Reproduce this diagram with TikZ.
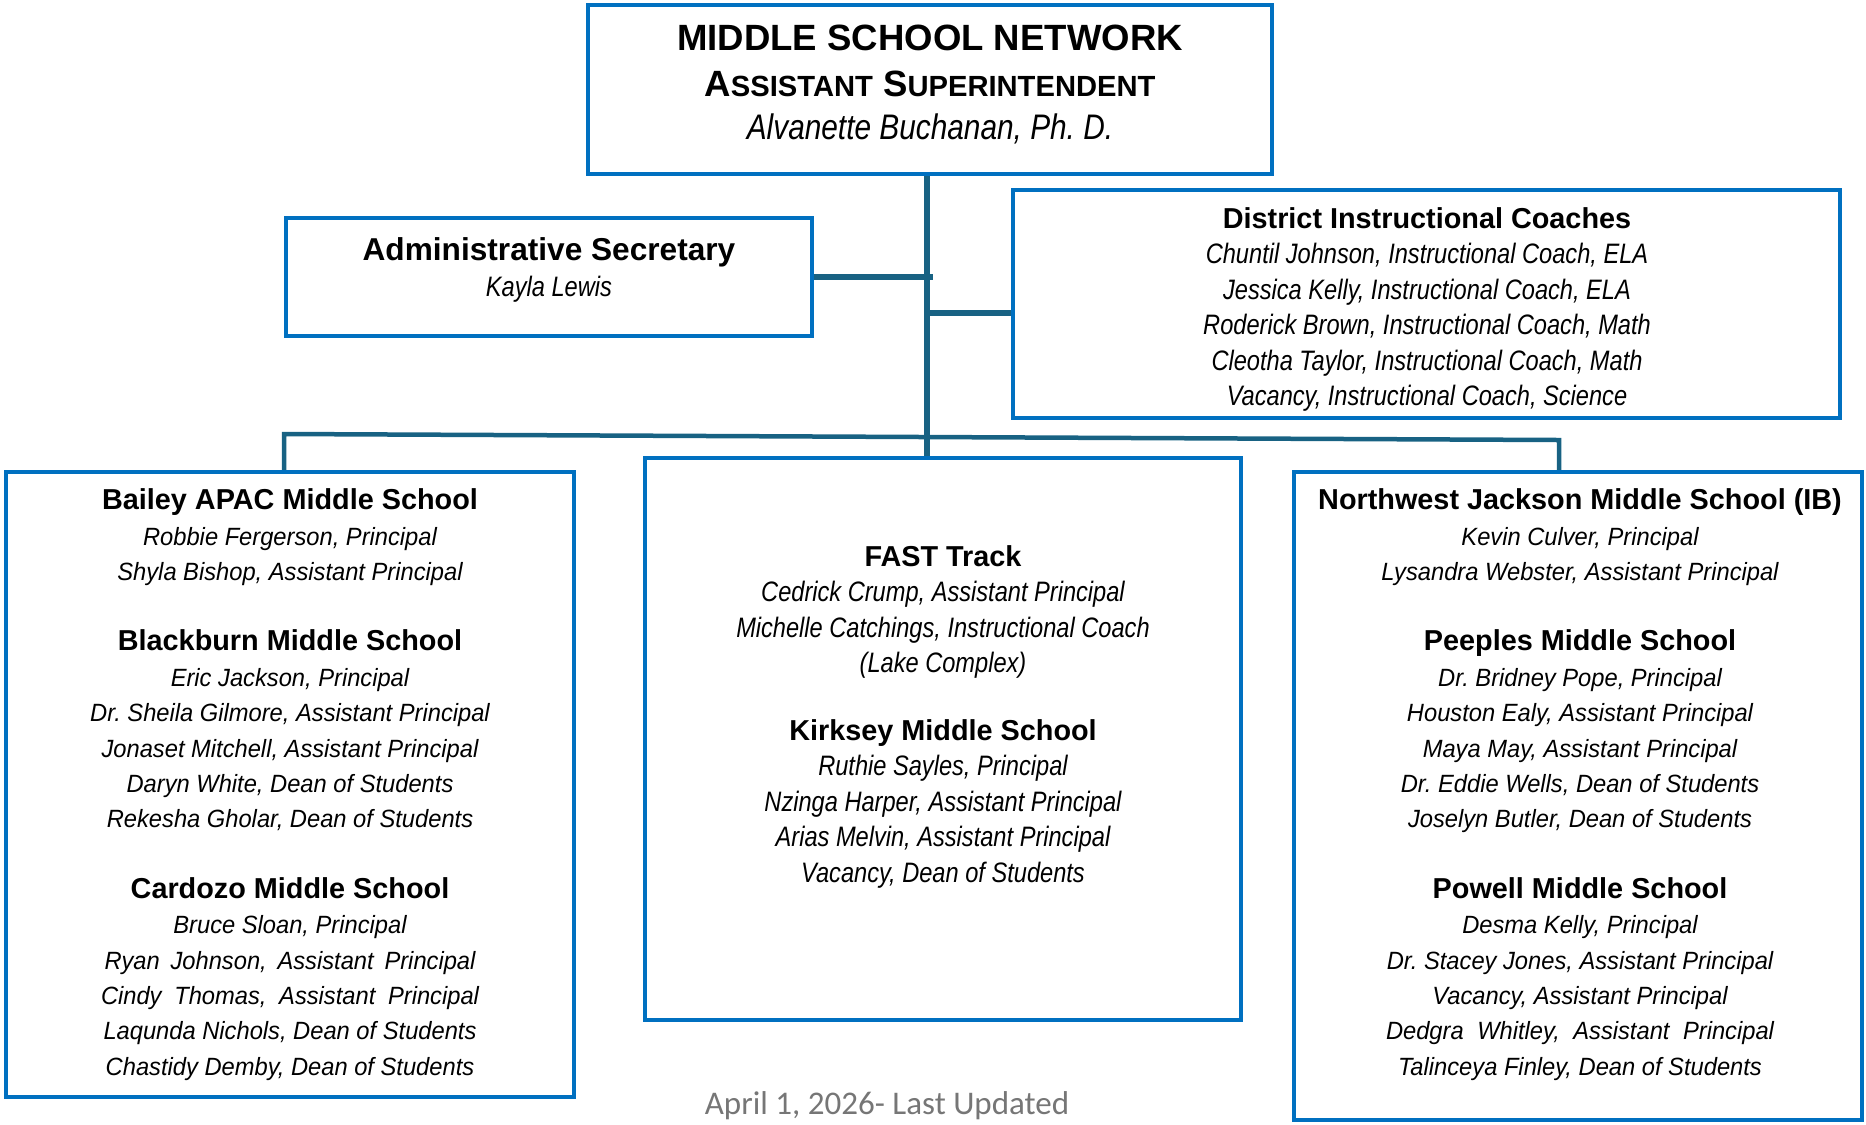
\documentclass[tikz,border=0pt]{standalone}
\usepackage{fontspec}
\setmainfont{Liberation Sans}
\newfontfamily\narrowsans[FakeStretch=0.84]{Liberation Sans}
\newfontfamily\widesans[FakeStretch=0.95]{Liberation Sans}
\newfontfamily\datefont{Carlito}
\usetikzlibrary{fit}
\definecolor{boxblue}{RGB}{0,112,192}
\definecolor{linkblue}{RGB}{24,98,131}
\definecolor{dategray}{RGB}{118,118,118}
\newcommand{\schoolname}[1]{{\normalfont\bfseries\fontsize{8.2}{10.07}\selectfont #1}}
\newcommand{\smallcapsize}[1]{{\fontsize{8.3}{12.2}\selectfont #1}}

\begin{document}
\frenchspacing
\begin{tikzpicture}[x=0.1mm, y=-0.1mm, line join=miter,
		orgbox/.style={draw=boxblue, line width=0.45mm, inner sep=0pt},
		link/.style={draw=linkblue, line width=0.55mm},
		names/.style={align=center, inner sep=0pt, anchor=north}]
	\useasboundingbox (0,0) rectangle (1866,1124);
	%Kästen
	\node[orgbox, fit={(588,5) (1272,174)}] (net) {};
	\node[orgbox, fit={(286,218) (812,336)}] (sec) {};
	\node[orgbox, fit={(1013,190) (1840,418)}] (coach) {};
	\node[orgbox, fit={(6,472) (574,1097)}] (west) {};
	\node[orgbox, fit={(645,458) (1241,1020)}] (fast) {};
	\node[orgbox, fit={(1294,472) (1862,1120)}] (east) {};
	%Verbindungen
	\coordinate (spine) at ([xshift=-0.3mm]net.south);
	\draw[link] (spine) -- (spine |- fast.north);
	\draw[link] (sec.east) -- ([xshift=0.6mm]sec.east -| spine);
	\coordinate (coachlink) at (927,313);
	\draw[link] (coachlink) -- (coachlink -| coach.west);
	\coordinate (busL) at (284,434);
	\coordinate (busR) at (1559,440);
	\draw[link, line width=0.45mm] (busL |- west.north) -- (busL) -- (busR) -- (busR |- east.north);
	%Texte
	\node[names, font=\bfseries\fontsize{10.4}{12.2}\selectfont] (nettext) at (930,24) {MIDDLE SCHOOL NETWORK\\[0.9pt]
		A\smallcapsize{SSISTANT} S\smallcapsize{UPERINTENDENT}\\
		{\narrowsans\mdseries\itshape\fontsize{10.1}{12.2}\selectfont Alvanette Buchanan, Ph. D.}};
	\node[names, font=\narrowsans\itshape\fontsize{8}{10.3}\selectfont] (sectext) at (549,237) {{\normalfont\bfseries\fontsize{9}{10.3}\selectfont Administrative Secretary}\\
		Kayla Lewis};
	\node[names, font=\narrowsans\itshape\fontsize{8}{10.07}\selectfont] (coachtext) at (1427,207) {\schoolname{District Instructional Coaches}\\
		Chuntil Johnson, Instructional Coach, ELA\\
		Jessica Kelly, Instructional Coach, ELA\\
		Roderick Brown, Instructional Coach, Math\\
		Cleotha Taylor, Instructional Coach, Math\\
		Vacancy, Instructional Coach, Science};
	\node[names, font=\widesans\itshape\fontsize{7.1}{10.07}\selectfont] (westtext) at (290,488) {\schoolname{Bailey APAC Middle School}\\
		Robbie Fergerson, Principal\\
		Shyla Bishop, Assistant Principal\\[10pt]
		\schoolname{Blackburn Middle School}\\
		Eric Jackson, Principal\\
		Dr. Sheila Gilmore, Assistant Principal\\
		Jonaset Mitchell, Assistant Principal\\
		Daryn White, Dean of Students\\
		Rekesha Gholar, Dean of Students\\[10pt]
		\schoolname{Cardozo Middle School}\\
		Bruce Sloan, Principal\\
		\makebox[37.1mm][s]{Ryan Johnson, Assistant Principal}\\
		\makebox[37.8mm][s]{Cindy Thomas, Assistant Principal}\\
		Laqunda Nichols, Dean of Students\\
		Chastidy Demby, Dean of Students};
	\node[names, font=\narrowsans\itshape\fontsize{8}{10.07}\selectfont] (fasttext) at (943,545) {\schoolname{FAST Track}\\
		Cedrick Crump, Assistant Principal\\
		Michelle Catchings, Instructional Coach\\
		(Lake Complex)\\[9.2pt]
		\schoolname{Kirksey Middle School}\\
		Ruthie Sayles, Principal\\
		Nzinga Harper, Assistant Principal\\
		Arias Melvin, Assistant Principal\hspace*{2.2mm}\\
		Vacancy, Dean of Students};
	\node[names, font=\widesans\itshape\fontsize{7.1}{10.07}\selectfont] (easttext) at (1580,488) {\schoolname{Northwest Jackson Middle School (IB)}\\
		Kevin Culver, Principal\\
		Lysandra Webster, Assistant Principal\\[10pt]
		\schoolname{Peeples Middle School}\\
		Dr. Bridney Pope, Principal\\
		Houston Ealy, Assistant Principal\\
		Maya May, Assistant Principal\\
		Dr. Eddie Wells, Dean of Students\\
		Joselyn Butler, Dean of Students\\[10pt]
		\schoolname{Powell Middle School}\\
		Desma Kelly, Principal\\
		Dr. Stacey Jones, Assistant Principal\\
		Vacancy, Assistant Principal\\
		\makebox[38.8mm][s]{Dedgra Whitley, Assistant Principal}\\
		Talinceya Finley, Dean of Students};
	\node[anchor=base, inner sep=0pt, font=\datefont\fontsize{9.4}{11}\selectfont, text=dategray] (stamp) at (887,1114) {April 1, 2026- Last Updated};
\end{tikzpicture}
\end{document}
